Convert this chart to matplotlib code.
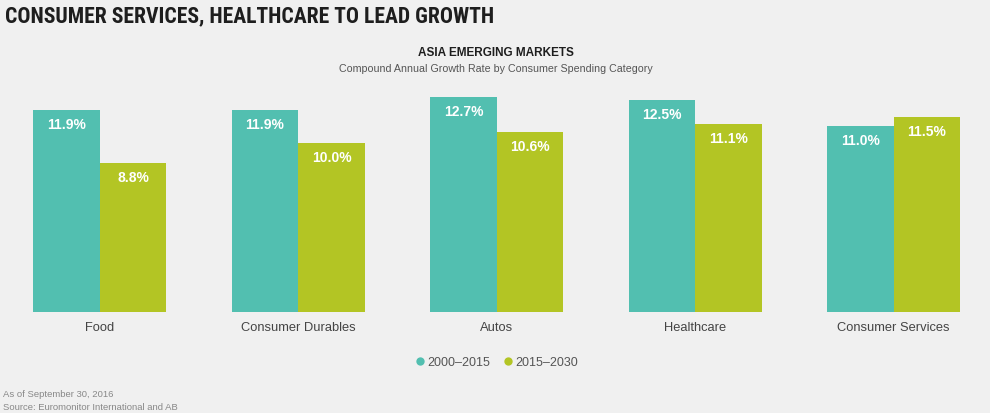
import matplotlib
matplotlib.use("Agg")
import matplotlib.pyplot as plt
from matplotlib.lines import Line2D
import numpy as np

categories = ["Food", "Consumer Durables", "Autos", "Healthcare", "Consumer Services"]
series_names = ["2000\u20132015", "2015\u20132030"]
growth_2000_2015 = [11.9, 11.9, 12.7, 12.5, 11.0]
growth_2015_2030 = [8.8, 10.0, 10.6, 11.1, 11.5]

TEAL = "#52bfb0"
GREEN = "#b3c524"
BG = "#f0f0f0"
FONT = ["Liberation Sans", "DejaVu Sans"]
NARROW = ["Roboto Condensed", "Liberation Sans Narrow", "Liberation Sans", "DejaVu Sans"]

W, H = 990, 413
fig = plt.figure(figsize=(W / 100, H / 100), dpi=100, facecolor=BG)

# plot area: baseline at y=312px, about 16.95 px per percentage point
base_px = 312
unit_px = 16.95
ymax = 14
ax = fig.add_axes([0, (H - base_px) / H, 1, unit_px * ymax / H])
ax.set_facecolor(BG)

step = 198.5
first_center = 99.7
ax.set_xlim(-first_center / step, (W - first_center) / step)
ax.set_ylim(0, ymax)

x = np.arange(len(categories))
w = 66.5 / step
b1 = ax.bar(x - w / 2, growth_2000_2015, w, color=TEAL, linewidth=0)
b2 = ax.bar(x + w / 2, growth_2015_2030, w, color=GREEN, linewidth=0)

for bars, vals in ((b1, growth_2000_2015), (b2, growth_2015_2030)):
    for rect, v in zip(bars, vals):
        ax.annotate(f"{v:.1f}%", (rect.get_x() + rect.get_width() / 2, v),
                    xytext=(0, -15), textcoords="offset pixels",
                    ha="center", va="center", color="white",
                    fontsize=10, fontweight="bold", family=FONT)

ax.set_xticks(x, categories)
ax.tick_params(axis="x", length=0, pad=7, labelsize=9.3, labelcolor="#444444")
for lab in ax.get_xticklabels():
    lab.set_family(FONT)
ax.set_yticks([])
for s in ax.spines.values():
    s.set_visible(False)

# legend
handles = [Line2D([], [], ls="none", marker="o", markersize=6, color=c, markeredgewidth=0)
           for c in (TEAL, GREEN)]
leg = fig.legend(handles, series_names, loc="center", bbox_to_anchor=(497 / W, 1 - 362.7 / H),
                 ncol=2, frameon=False, handlelength=0.6, handletextpad=0.3,
                 columnspacing=1.14, prop={"family": FONT, "size": 9})
for t in leg.get_texts():
    t.set_color("#555555")

# titles
fig.text(5 / W, 1 - 16.7 / H, "CONSUMER SERVICES, HEALTHCARE TO LEAD GROWTH",
         ha="left", va="center", fontsize=15.6, fontweight="bold",
         color="#1e1e1e", family=NARROW)
fig.text(495.5 / W, 1 - 52.7 / H, "ASIA EMERGING MARKETS", ha="center", va="center",
         fontsize=8.5, fontweight="bold", color="#1e1e1e", family=FONT)
fig.text(495.5 / W, 1 - 69 / H, "Compound Annual Growth Rate by Consumer Spending Category",
         ha="center", va="center", fontsize=7.7, color="#555555", family=FONT)

# footer
fig.text(3 / W, 1 - 394.5 / H, "As of September 30, 2016", ha="left", va="center",
         fontsize=6.8, color="#888888", family=FONT)
fig.text(3 / W, 1 - 407.3 / H, "Source: Euromonitor International and AB", ha="left",
         va="center", fontsize=6.8, color="#888888", family=FONT)

fig.savefig("out.png", dpi=100, facecolor=BG)
